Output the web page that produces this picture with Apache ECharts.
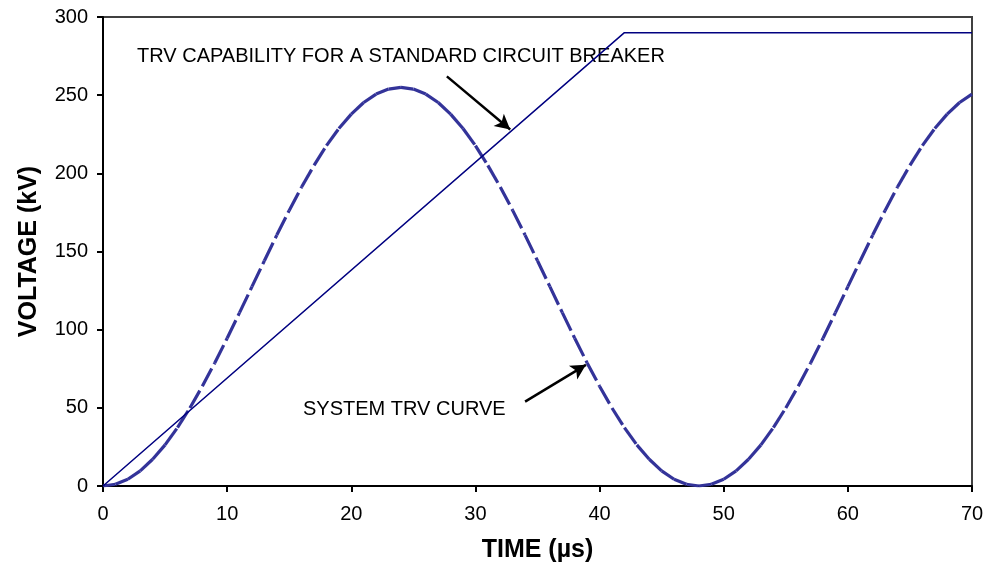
<!DOCTYPE html>
<html><head><meta charset="utf-8">
<script src="https://cdn.jsdelivr.net/npm/echarts@6/dist/echarts.min.js"></script>
<style>html,body{margin:0;padding:0;background:#fff}#c{width:997px;height:567px}</style>
</head><body><div id="c"></div>
<script>
// time axis samples (µs)
const timeUs = [0,1,2,3,4,5,6,7,8,9,10,11,12,13,14,15,16,17,18,19,20,21,22,23,24,25,26,27,28,29,30,31,32,33,34,35,36,37,38,39,40,41,42,43,44,45,46,47,48,49,50,51,52,53,54,55,56,57,58,59,60,61,62,63,64,65,66,67,68,69,70];
// system TRV curve (kV)
const systemTrvKv = [0,1.1,4.3,9.7,17.1,26.3,37.3,49.9,63.8,78.7,94.5,110.9,127.5,144.1,160.5,176.3,191.3,205.1,217.7,228.7,237.9,245.3,250.7,253.9,255,
  253.9,250.7,245.3,237.9,228.7,217.7,205.1,191.3,176.3,160.5,144.1,127.5,110.9,94.5,78.7,63.8,49.9,37.3,26.3,17.1,9.7,4.3,1.1,0,
  1.1,4.3,9.7,17.1,26.3,37.3,49.9,63.8,78.7,94.5,110.9,127.5,144.1,160.5,176.3,191.3,205.1,217.7,228.7,237.9,245.3,250.7];
// TRV capability envelope of a standard breaker
const capTimeUs = [0, 42, 70];
const capKv = [0, 290, 290];
// annotations: [startT, startV, tipT, tipV]
const arrowCap = [27.7, 262, 32.8, 228];
const arrowSys = [34.0, 54, 38.9, 77.5];
const xTicks = [0,10,20,30,40,50,60,70];
const yTicks = [0,50,100,150,200,250,300];

const segs = [];
for (let i = 0; i < timeUs.length - 1; i++) {
  segs.push({coords: [[timeUs[i], systemTrvKv[i]], [timeUs[i+1], systemTrvKv[i+1]]]});
}
const capData = capTimeUs.map((t, i) => [t, capKv[i]]);

const chart = echarts.init(document.getElementById('c'), null, {renderer: 'canvas'});
const txt = {fontFamily: 'Liberation Sans, Arial, sans-serif', color: '#000'};
chart.setOption({
  animation: false,
  backgroundColor: '#fff',
  grid: {left: 103, right: 25, top: 17, bottom: 81, containLabel: false, outerBoundsMode: 'none',
         show: true, borderColor: '#404040', borderWidth: 2, backgroundColor: 'transparent'},
  xAxis: {
    type: 'value', min: xTicks[0], max: xTicks[xTicks.length-1], interval: 10,
    name: 'TIME (µs)', nameLocation: 'middle', nameGap: 52,
    nameTextStyle: Object.assign({}, txt, {fontSize: 25, fontWeight: 'bold'}),
    axisLine: {lineStyle: {color: '#000', width: 2}},
    axisTick: {show: true, length: 6, lineStyle: {color: '#000', width: 2}},
    axisLabel: Object.assign({}, txt, {fontSize: 20, margin: 18}),
    splitLine: {show: false}
  },
  yAxis: {
    type: 'value', min: yTicks[0], max: yTicks[yTicks.length-1], interval: 50,
    name: 'VOLTAGE (kV)', nameLocation: 'middle', nameGap: 61,
    nameTextStyle: Object.assign({}, txt, {fontSize: 25, fontWeight: 'bold'}),
    axisLine: {show: true, lineStyle: {color: '#000', width: 2}},
    axisTick: {show: true, length: 6, lineStyle: {color: '#000', width: 2}},
    axisLabel: Object.assign({}, txt, {fontSize: 20, margin: 15}),
    splitLine: {show: false}
  },
  series: [
    {
      type: 'line', data: capData, showSymbol: false, symbol: 'none',
      lineStyle: {color: '#000080', width: 1.5}, z: 3,
      markLine: {
        silent: true, symbol: ['none', 'arrow'], symbolSize: [12, 15],
        lineStyle: {color: '#000', width: 2.5, type: 'solid'},
        label: {show: false},
        data: [
          [{coord: [arrowCap[0], arrowCap[1]]}, {coord: [arrowCap[2], arrowCap[3]]}],
          [{coord: [arrowSys[0], arrowSys[1]]}, {coord: [arrowSys[2], arrowSys[3]]}]
        ]
      }
    },
    {
      type: 'lines', coordinateSystem: 'cartesian2d', polyline: false, data: segs,
      lineStyle: {color: '#333399', width: 3.2, opacity: 1, type: [20, 5]}, z: 2
    }
  ],
  graphic: [
    {type: 'text', left: 137, top: 46, style: {text: 'TRV CAPABILITY FOR A STANDARD CIRCUIT BREAKER', font: '20px "Liberation Sans", Arial, sans-serif', fill: '#000'}},
    {type: 'text', left: 303, top: 399, style: {text: 'SYSTEM TRV CURVE', font: '20px "Liberation Sans", Arial, sans-serif', fill: '#000'}}
  ]
});
</script></body></html>
